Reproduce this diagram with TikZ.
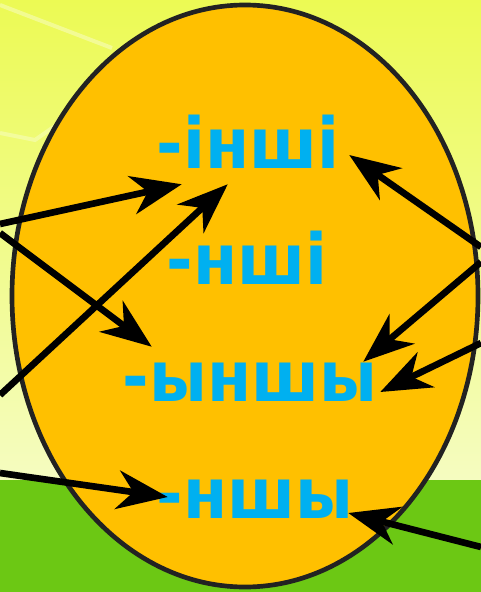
\documentclass[tikz,border=0pt]{standalone}
\usepackage{fontspec}
\setmainfont{DejaVu Sans}
\usepackage{graphicx}
\usetikzlibrary{arrows.meta, calc}
\definecolor{skytop}{HTML}{ECFA54}
\definecolor{skybot}{HTML}{F5FCC0}
\definecolor{grass}{HTML}{6CC814}
\definecolor{eggfill}{HTML}{FFC000}
\definecolor{eggline}{HTML}{222222}
\definecolor{sufblue}{HTML}{00B0F0}

\begin{document}
\begin{tikzpicture}[
  x=0.75pt, y=-0.75pt,
  suffix/.style={text=sufblue, inner sep=0pt, text centered,
    font=\bfseries\fontsize{48}{52}\selectfont},
  arrow/.style={-{Stealth[length=38pt, width=29pt, inset=12pt]}, line width=5pt, black}
]
\useasboundingbox (0,0) rectangle (481,592);
\clip (0,0) rectangle (481,592);

% background
\shade [top color=skytop, bottom color=skybot] (0,0) rectangle (481,480);
\fill [grass] (0,480) rectangle (481,592);
\draw [white, opacity=0.35, line width=3pt] (0,5) -- (112,48);
\draw [white, opacity=0.3, line width=3pt] (0,133) -- (35,140) -- (55,126);

\draw [eggline, fill=eggfill, line width=3.5pt] (245,296) ellipse [x radius=233, y radius=291];

\node (ini) [suffix, minimum width=150pt, minimum height=63pt] at (248,142) {\scalebox{1}[1.1]{-інші}};
\node (nshi) [suffix] at (247,258) {\scalebox{1}[1.1]{-нші}};
\node (ynshy) [suffix, minimum width=195pt, minimum height=52.5pt] at (250,382) {\scalebox{1}[1.1]{-ыншы}};
\node (nshy) [suffix, minimum width=150pt, minimum height=45pt] at (255,499) {\scalebox{1}[1.1]{-ншы}};

\coordinate (l1) at (0,224);
\coordinate (l2) at (0,233);
\coordinate (l3) at (0,395);
\coordinate (l4) at (0,473);
\coordinate (r1) at (481,247);
\coordinate (r2) at (481,262);
\coordinate (r3) at (481,343);
\coordinate (r4) at (481,547);

\draw [arrow] (l1) -- ($(ini.south west)+(34,0)$);
\draw [arrow] (l2) -- ($(ynshy.north west)+(32,0)$);
\draw [arrow] (l3) -- ($(ini.south west)+(80,0)$);
\draw [arrow] (l4) -- ($(nshy.west)+(13,-2)$);
\draw [arrow] (r1) -- ($(ini.east)+(1,13)$);
\draw [arrow] (r2) -- ($(ynshy.north east)+(-17,15)$);
\draw [arrow] (r3) -- ($(ynshy.east)+(0,10)$);
\draw [arrow] (r4) -- ($(nshy.east)+(-7,14)$);

\end{tikzpicture}
\end{document}
